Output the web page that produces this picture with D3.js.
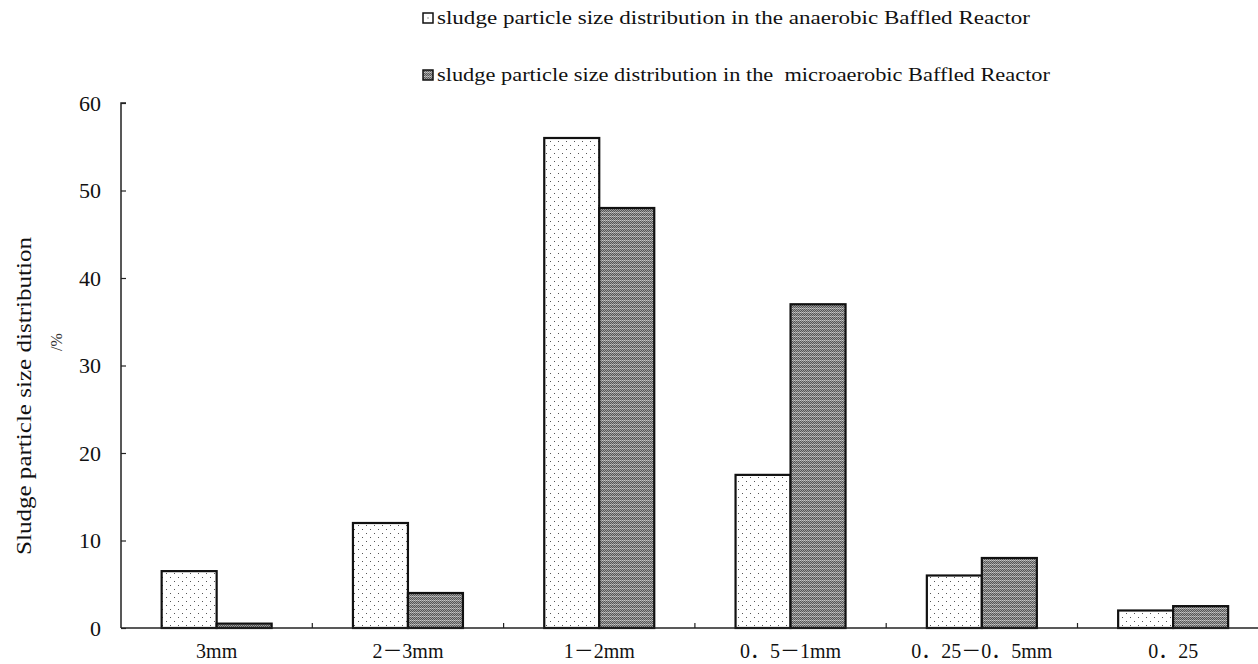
<!DOCTYPE html>
<html><head><meta charset="utf-8">
<script src="https://cdn.jsdelivr.net/npm/d3@7"></script>
<style>
html,body{margin:0;padding:0;background:#fff;}
svg{display:block;}
</style></head>
<body>
<svg id="chart" width="1258" height="664"></svg>
<script>
const categories = ["3mm", "2－3mm", "1－2mm", "0．5－1mm", "0．25－0．5mm", "0．25"];
const seriesNames = [
  "sludge particle size distribution in the anaerobic Baffled Reactor",
  "sludge particle size distribution in the  microaerobic Baffled Reactor"
];
const anaerobic = [6.5, 12, 56, 17.5, 6, 2];
const microaerobic = [0.5, 4, 48, 37, 8, 2.5];
const yTicks = [0, 10, 20, 30, 40, 50, 60];
const yTitle = ["Sludge particle size distribution", "/%"];

(function(){
const FONT = "'Liberation Serif', 'Times New Roman', 'Noto Sans CJK SC', serif";
const svg = d3.select("#chart").attr("font-family", FONT);
const W = 1258;
const mLeft = 121, mBottom = 628, mTop = 103;
const band = 191.3;

// patterns
const defs = svg.append("defs");
const pDot = defs.append("pattern").attr("id","pDot").attr("patternUnits","userSpaceOnUse")
  .attr("width",8).attr("height",8);
pDot.append("rect").attr("width",8).attr("height",8).attr("fill","#fff");
[[2,1],[6,5]].forEach(([x,y])=>pDot.append("rect").attr("x",x).attr("y",y).attr("width",1).attr("height",1).attr("fill","#555"));
const pGray = defs.append("pattern").attr("id","pGray").attr("patternUnits","userSpaceOnUse")
  .attr("width",4).attr("height",4);
pGray.append("rect").attr("width",4).attr("height",4).attr("fill","#7c7c7c");
for (let yy=0; yy<4; yy++) for (let xx=0; xx<4; xx++) {
  if ((xx+yy)%2===0) pGray.append("rect").attr("x",xx).attr("y",yy).attr("width",1).attr("height",1)
    .attr("fill", yy===0 ? "#c8c8c8" : "#a0a0a0");
  else pGray.append("rect").attr("x",xx).attr("y",yy).attr("width",1).attr("height",1)
    .attr("fill", yy===0 ? "#888" : "#555");
}

const x0 = d3.scaleBand().domain(categories).range([mLeft, mLeft + band*categories.length]).padding(0);
const x1 = d3.scaleBand().domain([0,1]).range([band/2 - 55, band/2 + 55]).padding(0);
const y = d3.scaleLinear().domain([0, 60]).range([mBottom, mTop]);

const data = categories.map((c,i)=>({c, vals:[anaerobic[i], microaerobic[i]]}));
const fills = ["url(#pDot)", "url(#pGray)"];

const g = svg.append("g");
data.forEach(d=>{
  d.vals.forEach((v,k)=>{
    g.append("rect")
      .attr("x", x0(d.c) + x1(k))
      .attr("y", y(v))
      .attr("width", x1.bandwidth())
      .attr("height", y(0) - y(v))
      .attr("fill", fills[k])
      .attr("stroke", "#111").attr("stroke-width", 2.2);
  });
});

// y axis
const yAxis = d3.axisRight(y).tickValues(yTicks).tickSize(5).tickFormat("");
const ya = svg.append("g").attr("transform",`translate(${mLeft},0)`).call(yAxis);
ya.select(".domain").attr("stroke","#222").attr("stroke-width",1.5).attr("d",`M5,${mTop}H0V${mBottom}`);
ya.selectAll(".tick line").attr("stroke","#222").attr("stroke-width",1.2);
svg.append("g").selectAll("text").data(yTicks).join("text")
  .attr("x", 101).attr("y", d=>y(d)).attr("dy","0.35em")
  .attr("text-anchor","end").attr("font-size",22)
  .attr("font-family", FONT).attr("fill","#111")
  .text(d=>d);

// x axis
svg.append("line").attr("x1",mLeft).attr("x2",W).attr("y1",mBottom).attr("y2",mBottom)
  .attr("stroke","#222").attr("stroke-width",1.5);
svg.append("g").selectAll("line").data(categories.slice(1)).join("line")
  .attr("x1", d=>x0(d)).attr("x2", d=>x0(d)).attr("y1", mBottom).attr("y2", mBottom-5)
  .attr("stroke","#222").attr("stroke-width",1.2);
svg.append("g").selectAll("text").data(categories).join("text")
  .attr("x", d=>x0(d)+band/2).attr("y", 658)
  .attr("text-anchor","middle").attr("font-size",20)
  .attr("font-family", FONT).attr("fill","#111")
  .text(d=>d);

// y title
svg.append("text").attr("transform","translate(31,396) rotate(-90)")
  .attr("text-anchor","middle").attr("font-size",22)
  .attr("font-family", FONT).attr("fill","#111")
  .attr("textLength",318).attr("lengthAdjust","spacingAndGlyphs")
  .text(yTitle[0]);
svg.append("text").attr("transform","translate(62,342) rotate(-90)")
  .attr("text-anchor","middle").attr("font-size",16)
  .attr("font-family", FONT).attr("fill","#333")
  .text(yTitle[1]);

// legend
const lg = svg.append("g");
const legY = [24, 81];
seriesNames.forEach((s,i)=>{
  lg.append("rect").attr("x",423).attr("y",legY[i]-11).attr("width",10).attr("height",10)
    .attr("fill", i===0 ? "#fff" : fills[i]).attr("stroke","#111").attr("stroke-width",1.5);
  if (i===0) lg.append("rect").attr("x",427.5).attr("y",legY[i]-6.5).attr("width",1).attr("height",1).attr("fill","#333");
  lg.append("text").attr("x",437).attr("y",legY[i]).attr("font-size",18)
    .attr("font-family", FONT).attr("fill","#111")
    .attr("textLength", i===0?593:613).attr("lengthAdjust","spacingAndGlyphs")
    .style("white-space","pre")
    .text(s);
});
})();
</script>
</body></html>
